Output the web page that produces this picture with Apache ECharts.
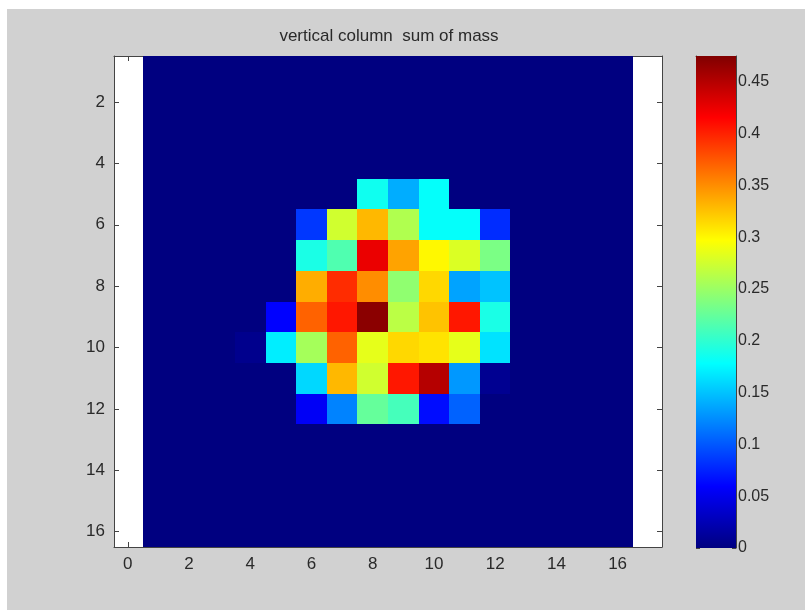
<!DOCTYPE html>
<html>
<head>
<meta charset="utf-8">
<script src="https://cdn.jsdelivr.net/npm/echarts@6/dist/echarts.min.js"></script>
<style>
  html, body { margin: 0; padding: 0; background: #ffffff; }
  #chart { position: absolute; left: 7px; top: 9px; width: 798px; height: 601px; background: #d1d1d1; }
</style>
</head>
<body>
<div id="chart"></div>
<script>
// vertical column sum of mass, rows 1..16 (top to bottom), columns 1..16
const mass = [
  [0, 0, 0, 0, 0, 0, 0, 0, 0, 0, 0, 0, 0, 0, 0, 0],
  [0, 0, 0, 0, 0, 0, 0, 0, 0, 0, 0, 0, 0, 0, 0, 0],
  [0, 0, 0, 0, 0, 0, 0, 0, 0, 0, 0, 0, 0, 0, 0, 0],
  [0, 0, 0, 0, 0, 0, 0, 0, 0, 0, 0, 0, 0, 0, 0, 0],
  [0, 0, 0, 0, 0, 0, 0, 0.185, 0.14, 0.18, 0, 0, 0, 0, 0, 0],
  [0, 0, 0, 0, 0, 0.085, 0.275, 0.33, 0.26, 0.18, 0.18, 0.08, 0, 0, 0, 0],
  [0, 0, 0, 0, 0, 0.19, 0.215, 0.425, 0.34, 0.30, 0.28, 0.235, 0, 0, 0, 0],
  [0, 0, 0, 0, 0, 0.335, 0.395, 0.35, 0.245, 0.315, 0.135, 0.15, 0, 0, 0, 0],
  [0, 0, 0, 0, 0.06, 0.37, 0.405, 0.47, 0.265, 0.325, 0.405, 0.19, 0, 0, 0, 0],
  [0, 0, 0, 0.006, 0.17, 0.255, 0.37, 0.285, 0.315, 0.31, 0.285, 0.165, 0, 0, 0, 0],
  [0, 0, 0, 0, 0, 0.16, 0.33, 0.275, 0.405, 0.45, 0.13, 0.008, 0, 0, 0, 0],
  [0, 0, 0, 0, 0, 0.055, 0.12, 0.225, 0.21, 0.065, 0.105, 0, 0, 0, 0, 0],
  [0, 0, 0, 0, 0, 0, 0, 0, 0, 0, 0, 0, 0, 0, 0, 0],
  [0, 0, 0, 0, 0, 0, 0, 0, 0, 0, 0, 0, 0, 0, 0, 0],
  [0, 0, 0, 0, 0, 0, 0, 0, 0, 0, 0, 0, 0, 0, 0, 0],
  [0, 0, 0, 0, 0, 0, 0, 0, 0, 0, 0, 0, 0, 0, 0, 0]
];
const xTicks = [0, 2, 4, 6, 8, 10, 12, 14, 16];
const yTicks = [2, 4, 6, 8, 10, 12, 14, 16];
const cbarTicks = [0, 0.05, 0.1, 0.15, 0.2, 0.25, 0.3, 0.35, 0.4, 0.45];
const cmin = 0;
const cmax = 0.475;
const jet = ['#000080', '#0000ff', '#0080ff', '#00ffff', '#80ff80', '#ffff00', '#ff8000', '#ff0000', '#800000'];

const cells = [];
mass.forEach((row, r) => {
  row.forEach((v, c) => cells.push([c + 1, r + 1, v]));
});

const font = 'Liberation Sans, Arial, sans-serif';
const axisColor = '#444';
const textColor = '#2a2a2a';

const chart = echarts.init(document.getElementById('chart'));

function tickAxis(extra) {
  return Object.assign({
    type: 'value',
    axisLine: { show: true, onZero: false, lineStyle: { color: axisColor, width: 1 } },
    axisTick: { show: true, inside: true, length: 5, lineStyle: { color: axisColor } },
    splitLine: { show: false },
    axisLabel: { show: false }
  }, extra);
}

const option = {
  animation: false,
  title: {
    text: 'vertical column  sum of mass',
    left: 377,
    top: 14,
    textAlign: 'center',
    textStyle: { fontFamily: font, fontSize: 17, fontWeight: 'normal', color: textColor }
  },
  visualMap: {
    show: false,
    type: 'continuous',
    seriesIndex: 0,
    dimension: 2,
    min: cmin,
    max: cmax,
    inRange: { color: jet }
  },
  grid: [
    { left: 107, top: 47, width: 548, height: 491, show: true, backgroundColor: '#ffffff', borderWidth: 0 },
    { left: 689, top: 47, width: 40, height: 492, show: false }
  ],
  xAxis: [
    tickAxis({
      gridIndex: 0, position: 'bottom', min: -0.45, max: 17.45,
      axisTick: { show: true, inside: true, length: 5, customValues: xTicks, lineStyle: { color: axisColor } },
      axisLabel: { show: true, customValues: xTicks, margin: 9, fontFamily: font, fontSize: 17, color: textColor }
    }),
    tickAxis({
      gridIndex: 0, position: 'top', min: -0.45, max: 17.45,
      axisTick: { show: true, inside: true, length: 5, customValues: xTicks, lineStyle: { color: axisColor } }
    }),
    { type: 'value', gridIndex: 1, min: 0, max: 1, show: false },
    tickAxis({
      gridIndex: 1, position: 'top', min: 0, max: 1,
      axisTick: { show: false }
    })
  ],
  yAxis: [
    tickAxis({
      gridIndex: 0, position: 'left', min: 0.5, max: 16.5, inverse: true,
      axisTick: { show: true, inside: true, length: 5, customValues: yTicks, lineStyle: { color: axisColor } },
      axisLabel: { show: true, customValues: yTicks, margin: 9, fontFamily: font, fontSize: 17, color: textColor }
    }),
    tickAxis({
      gridIndex: 0, position: 'right', min: 0.5, max: 16.5, inverse: true,
      axisTick: { show: true, inside: true, length: 5, customValues: yTicks, lineStyle: { color: axisColor } }
    }),
    tickAxis({
      gridIndex: 1, position: 'left', min: cmin, max: cmax,
      axisTick: { show: true, inside: true, length: 4, customValues: cbarTicks, lineStyle: { color: axisColor } }
    }),
    tickAxis({
      gridIndex: 1, position: 'right', min: cmin, max: cmax,
      axisTick: { show: true, inside: true, length: 4, customValues: cbarTicks, lineStyle: { color: axisColor } },
      axisLabel: { show: true, customValues: cbarTicks, margin: 2, fontFamily: font, fontSize: 16, color: textColor }
    })
  ],
  series: [
    {
      type: 'custom',
      xAxisIndex: 0,
      yAxisIndex: 0,
      data: cells,
      renderItem: function (params, api) {
        const p0 = api.coord([api.value(0) - 0.5, api.value(1) - 0.5]);
        const p1 = api.coord([api.value(0) + 0.5, api.value(1) + 0.5]);
        // snap to whole pixels so neighbouring cells meet without seams
        const x0 = Math.round(Math.min(p0[0], p1[0]));
        const x1 = Math.round(Math.max(p0[0], p1[0]));
        const y0 = Math.round(Math.min(p0[1], p1[1]));
        const y1 = Math.round(Math.max(p0[1], p1[1]));
        return {
          type: 'rect',
          shape: { x: x0, y: y0, width: x1 - x0, height: y1 - y0 },
          style: { fill: api.visual('color') }
        };
      }
    },
    {
      // colorbar
      type: 'custom',
      xAxisIndex: 2,
      yAxisIndex: 2,
      data: [[0, cmin, 1, cmax]],
      renderItem: function (params, api) {
        const p0 = api.coord([api.value(0), api.value(1)]);
        const p1 = api.coord([api.value(2), api.value(3)]);
        const stops = jet.map((c, i) => ({ offset: i / (jet.length - 1), color: c }));
        return {
          type: 'rect',
          shape: { x: p0[0], y: p1[1], width: p1[0] - p0[0], height: p0[1] - p1[1] },
          style: { fill: new echarts.graphic.LinearGradient(0, 1, 0, 0, stops) }
        };
      }
    }
  ]
};

chart.setOption(option);
</script>
</body>
</html>
